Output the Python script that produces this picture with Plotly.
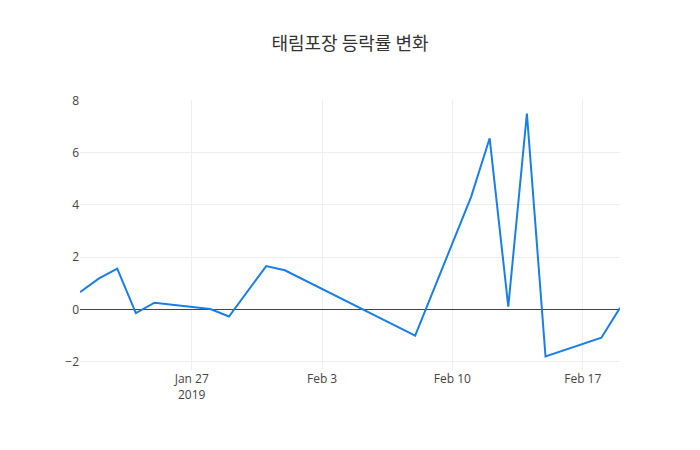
import plotly.graph_objects as go

dates = ["2019-01-21", "2019-01-22", "2019-01-23", "2019-01-24", "2019-01-25",
         "2019-01-28", "2019-01-29", "2019-01-31", "2019-02-01", "2019-02-08",
         "2019-02-11", "2019-02-12", "2019-02-13", "2019-02-14", "2019-02-15",
         "2019-02-18", "2019-02-19"]
rates = [0.66, 1.18, 1.56, -0.14, 0.26,
         0.02, -0.27, 1.66, 1.50, -1.00,
         4.30, 6.55, 0.11, 7.50, -1.80,
         -1.08, 0.06]

fig = go.Figure(go.Scatter(x=dates, y=rates, mode="lines",
                           line=dict(color="#1a7ee8", width=2)))
fig.update_layout(
    width=700, height=450,
    template="plotly_white",
    title=dict(text="태림포장 등락률 변화", x=0.5, xanchor="center",
               font=dict(family="Noto Sans CJK KR, Open Sans", size=18, color="#333")),
    font=dict(family="Open Sans, Noto Sans CJK KR", color="#444", size=12),
    margin=dict(l=80, r=80, t=100, b=80),
    showlegend=False,
)
fig.update_xaxes(showgrid=True, gridcolor="#eee", zeroline=False, showline=False)
fig.update_yaxes(showgrid=True, gridcolor="#eee", zeroline=True,
                 zerolinecolor="#444", zerolinewidth=1, showline=False)
fig.write_html("out.html")
